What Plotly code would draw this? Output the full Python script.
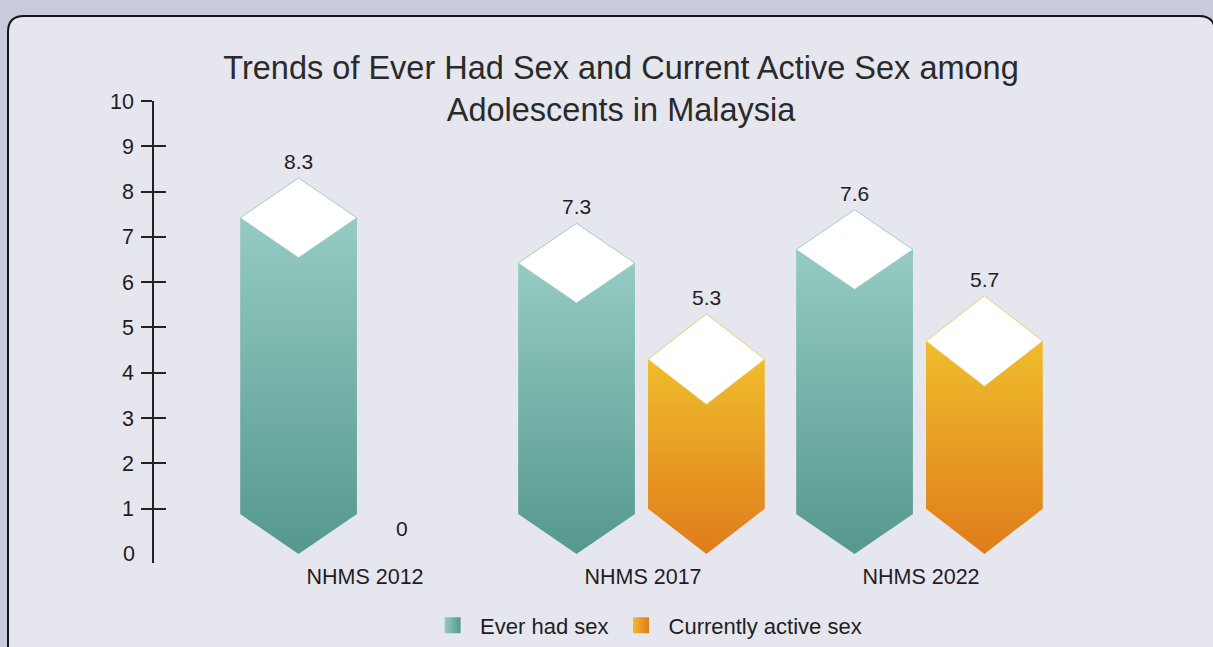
import plotly.graph_objects as go

# ---------------- data ----------------
categories = ["NHMS 2012", "NHMS 2017", "NHMS 2022"]
ever_had_sex = [8.3, 7.3, 7.6]
currently_active_sex = [0, 5.3, 5.7]
series_names = ["Ever had sex", "Currently active sex"]
y_tick_values = [1, 2, 3, 4, 5, 6, 7, 8, 9, 10]
title_text = "Trends of Ever Had Sex and Current Active Sex among<br>Adolescents in Malaysia"

# ---------------- layout geometry ----------------
W, H = 1213, 647
L_PX, R_PX = 154, 1190
T_PX = 101
PX_PER_UNIT_Y = 45.26
Y_MIN, Y_MAX = -0.2, 10
B_PX = T_PX + (Y_MAX - Y_MIN) * PX_PER_UNIT_Y
GROUP_PX = 278
GROUP0_PX = 365
X_MIN = (L_PX - GROUP0_PX) / GROUP_PX
X_MAX = (R_PX - GROUP0_PX) / GROUP_PX

FONT = "Liberation Sans, Arial, sans-serif"
TEXT_COLOR = "#1e1e1e"

series_style = [
    dict(offset=-0.239, half=0.21, d=0.88,
         top="#95cbc2", bottom="#55988e", edge="#8fc4bb"),
    dict(offset=0.228, half=0.21, d=1.0,
         top="#efbd2c", bottom="#df7c1b", edge="#efc24a"),
]

fig = go.Figure()

annotations = []
for s_idx, values in enumerate([ever_had_sex, currently_active_sex]):
    st = series_style[s_idx]
    for g_idx, v in enumerate(values):
        c = g_idx + st["offset"]
        w = st["half"]
        d = st["d"]
        if v > 0:
            # gradient body (sides + pointed bottom, V-shaped top)
            bx = [c - w, c, c + w, c + w, c, c - w, c - w]
            by = [v - d, v - 2 * d, v - d, d, 0, d, v - d]
            fig.add_trace(go.Scatter(
                x=bx, y=by, mode="lines", fill="toself",
                line=dict(width=0, color=st["bottom"]),
                fillgradient=dict(type="vertical",
                                  colorscale=[[0, st["bottom"]], [1, st["top"]]]),
                hoverinfo="skip", showlegend=False))
            # white diamond cap
            dx = [c, c + w, c, c - w, c]
            dy = [v, v - d, v - 2 * d, v - d, v]
            fig.add_trace(go.Scatter(
                x=dx, y=dy, mode="lines", fill="toself",
                fillcolor="white", line=dict(width=0.8, color=st["edge"]),
                hoverinfo="skip", showlegend=False))
            annotations.append(dict(
                x=c, y=v, xref="x", yref="y", text=f"{v:g}", showarrow=False,
                yanchor="bottom", yshift=3,
                font=dict(family=FONT, size=21, color=TEXT_COLOR)))
        else:
            annotations.append(dict(
                x=c, y=0, xref="x", yref="y", text=f"{v:g}", showarrow=False,
                yanchor="bottom", yshift=12, xshift=-26,
                font=dict(family=FONT, size=21, color=TEXT_COLOR)))

# legend entries
for s_idx, name in enumerate(series_names):
    st = series_style[s_idx]
    fig.add_trace(go.Scatter(
        x=[None], y=[None], mode="markers", name=name,
        marker=dict(symbol="square", size=16, color=st["top"],
                    gradient=dict(type="horizontal", color=st["bottom"]),
                    line=dict(width=0))))

# "0" label of the value axis (no tick mark at zero)
annotations.append(dict(
    x=0, y=0, xref="paper", yref="y", text="0", showarrow=False,
    xanchor="right", xshift=-17,
    font=dict(family=FONT, size=21.5, color=TEXT_COLOR)))


# ---------------- panel background ----------------
def px_x(px):
    return (px - L_PX) / (R_PX - L_PX)


def px_y(py):
    return (B_PX - py) / (B_PX - T_PX)


pl, pt, pr, pb, rad = 8, 16, 1215, 665, 16
path = (
    f"M {px_x(pl)},{px_y(pt + rad)} "
    f"Q {px_x(pl)},{px_y(pt)} {px_x(pl + rad)},{px_y(pt)} "
    f"L {px_x(pr - rad)},{px_y(pt)} "
    f"Q {px_x(pr)},{px_y(pt)} {px_x(pr)},{px_y(pt + rad)} "
    f"L {px_x(pr)},{px_y(pb)} "
    f"L {px_x(pl)},{px_y(pb)} Z"
)

fig.update_layout(
    width=W, height=H,
    margin=dict(l=L_PX, r=W - R_PX, t=T_PX, b=H - B_PX, autoexpand=False),
    paper_bgcolor="#c9cbda",
    plot_bgcolor="rgba(0,0,0,0)",
    shapes=[dict(type="path", path=path, xref="paper", yref="paper",
                 fillcolor="#e6e6ee", line=dict(color="#151515", width=2),
                 layer="below")],
    title=dict(text=title_text, x=0.512, xref="container", xanchor="center",
               y=1 - 79 / H, yref="container", yanchor="top",
               font=dict(family=FONT, size=32.5, color="#2a2a2a")),
    xaxis=dict(range=[X_MIN, X_MAX], tickvals=[0, 1, 2], ticktext=categories,
               showgrid=False, zeroline=False, showline=False, ticks="",
               ticklabelstandoff=-2,
               tickfont=dict(family=FONT, size=21.5, color=TEXT_COLOR),
               fixedrange=True),
    yaxis=dict(range=[Y_MIN, Y_MAX], tickvals=y_tick_values,
               showgrid=False, zeroline=False, showline=True,
               linecolor="#222222", linewidth=1.5,
               ticks="outside", ticklen=11, tickwidth=1.5, tickcolor="#222222",
               ticklabelstandoff=3,
               tickfont=dict(family=FONT, size=21.5, color=TEXT_COLOR)),
    yaxis2=dict(range=[Y_MIN, Y_MAX], tickvals=y_tick_values, overlaying="y",
                side="left", anchor="x", showgrid=False, zeroline=False,
                showline=False, ticks="inside", ticklen=12, tickwidth=1.5,
                tickcolor="#222222", showticklabels=False),
    legend=dict(orientation="h", x=0.475, xanchor="center", y=-0.135,
                yanchor="middle", bgcolor="rgba(0,0,0,0)",
                font=dict(family=FONT, size=22, color=TEXT_COLOR),
                itemwidth=45),
    annotations=annotations,
    showlegend=True,
)

# dummy trace to activate yaxis2 ticks
fig.add_trace(go.Scatter(x=[None], y=[None], yaxis="y2", showlegend=False,
                         hoverinfo="skip"))

fig.write_html(
    "out.html",
    config={"displayModeBar": False},
    post_script="document.body.style.margin='0px';"
                "document.documentElement.style.overflow='hidden';"
                "document.body.style.background='#c9cbda';",
)
